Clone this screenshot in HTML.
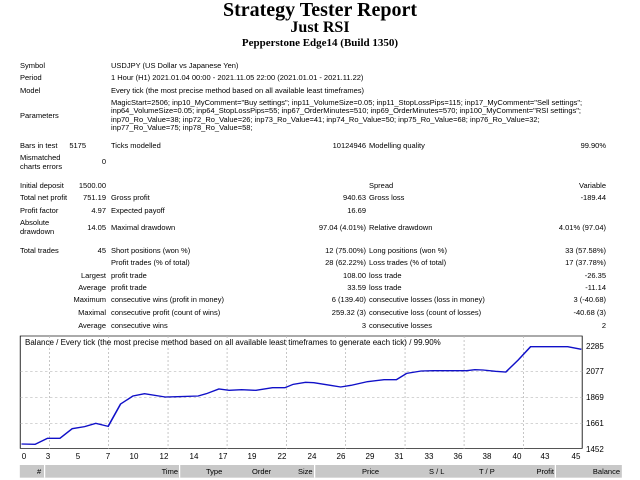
<!DOCTYPE html>
<html><head><meta charset="utf-8"><style>
body{margin:0;width:640px;height:480px;background:#fff;position:relative;overflow:hidden;font-family:"Liberation Sans","DejaVu Sans",sans-serif;font-size:7.5px;color:#000}
.t{position:absolute;white-space:nowrap;line-height:9px}
.r{text-align:right}
.c{position:absolute;white-space:nowrap;font-size:8px;line-height:9px}
.x{position:absolute;top:452px;width:20px;margin-left:-10px;text-align:center;font-size:8px;line-height:9px}
.h{position:absolute;left:0;width:640px;text-align:center;font-family:"Liberation Serif",serif;font-weight:bold;white-space:nowrap}
</style></head><body>
<div class="h" style="top:-1px;font-size:20px;">Strategy Tester Report</div>
<div class="h" style="top:19px;font-size:16px;">Just RSI</div>
<div class="h" style="top:37px;font-size:11px;">Pepperstone Edge14 (Build 1350)</div>

<div class="t" style="left:20px;top:61px">Symbol</div>
<div class="t" style="left:111px;top:61px">USDJPY (US Dollar vs Japanese Yen)</div>
<div class="t" style="left:20px;top:73px">Period</div>
<div class="t" style="left:111px;top:73px">1 Hour (H1) 2021.01.04 00:00 - 2021.11.05 22:00 (2021.01.01 - 2021.11.22)</div>
<div class="t" style="left:20px;top:86px">Model</div>
<div class="t" style="left:111px;top:86px">Every tick (the most precise method based on all available least timeframes)</div>
<div class="t" style="left:20px;top:111px">Parameters</div>
<div class="t" style="left:111px;top:99px;line-height:8.3px">MagicStart=2506; inp10_MyComment="Buy settings"; inp11_VolumeSize=0.05; inp11_StopLossPips=115; inp17_MyComment="Sell settings";<br>inp64_VolumeSize=0.05; inp64_StopLossPips=55; inp67_OrderMinutes=510; inp69_OrderMinutes=570; inp100_MyComment="RSI settings";<br>inp70_Ro_Value=38; inp72_Ro_Value=26; inp73_Ro_Value=41; inp74_Ro_Value=50; inp75_Ro_Value=68; inp76_Ro_Value=32;<br>inp77_Ro_Value=75; inp78_Ro_Value=58;</div>
<div class="t" style="left:20px;top:141px">Bars in test</div>
<div class="t r" style="left:40px;width:46px;top:141px">5175</div>
<div class="t" style="left:111px;top:141px">Ticks modelled</div>
<div class="t r" style="left:280px;width:86px;top:141px">10124946</div>
<div class="t" style="left:369px;top:141px">Modelling quality</div>
<div class="t r" style="left:520px;width:86px;top:141px">99.90%</div>
<div class="t" style="left:20px;top:153px;line-height:9px">Mismatched<br>charts errors</div>
<div class="t r" style="left:40px;width:66px;top:157px">0</div>

<div class="t" style="left:20px;top:181px">Initial deposit</div>
<div class="t r" style="left:40px;width:66px;top:181px">1500.00</div>
<div class="t" style="left:369px;top:181px">Spread</div>
<div class="t r" style="left:520px;width:86px;top:181px">Variable</div>

<div class="t" style="left:20px;top:193px">Total net profit</div>
<div class="t r" style="left:40px;width:66px;top:193px">751.19</div>
<div class="t" style="left:111px;top:193px">Gross profit</div>
<div class="t r" style="left:280px;width:86px;top:193px">940.63</div>
<div class="t" style="left:369px;top:193px">Gross loss</div>
<div class="t r" style="left:520px;width:86px;top:193px">-189.44</div>

<div class="t" style="left:20px;top:206px">Profit factor</div>
<div class="t r" style="left:40px;width:66px;top:206px">4.97</div>
<div class="t" style="left:111px;top:206px">Expected payoff</div>
<div class="t r" style="left:280px;width:86px;top:206px">16.69</div>

<div class="t" style="left:20px;top:218px;line-height:9px">Absolute<br>drawdown</div>
<div class="t r" style="left:40px;width:66px;top:223px">14.05</div>
<div class="t" style="left:111px;top:223px">Maximal drawdown</div>
<div class="t r" style="left:280px;width:86px;top:223px">97.04 (4.01%)</div>
<div class="t" style="left:369px;top:223px">Relative drawdown</div>
<div class="t r" style="left:520px;width:86px;top:223px">4.01% (97.04)</div>

<div class="t" style="left:20px;top:246px">Total trades</div>
<div class="t r" style="left:40px;width:66px;top:246px">45</div>
<div class="t" style="left:111px;top:246px">Short positions (won %)</div>
<div class="t r" style="left:280px;width:86px;top:246px">12 (75.00%)</div>
<div class="t" style="left:369px;top:246px">Long positions (won %)</div>
<div class="t r" style="left:520px;width:86px;top:246px">33 (57.58%)</div>

<div class="t" style="left:111px;top:258px">Profit trades (% of total)</div>
<div class="t r" style="left:280px;width:86px;top:258px">28 (62.22%)</div>
<div class="t" style="left:369px;top:258px">Loss trades (% of total)</div>
<div class="t r" style="left:520px;width:86px;top:258px">17 (37.78%)</div>

<div class="t r" style="left:40px;width:66px;top:271px">Largest</div>
<div class="t" style="left:111px;top:271px">profit trade</div>
<div class="t r" style="left:280px;width:86px;top:271px">108.00</div>
<div class="t" style="left:369px;top:271px">loss trade</div>
<div class="t r" style="left:520px;width:86px;top:271px">-26.35</div>

<div class="t r" style="left:40px;width:66px;top:283px">Average</div>
<div class="t" style="left:111px;top:283px">profit trade</div>
<div class="t r" style="left:280px;width:86px;top:283px">33.59</div>
<div class="t" style="left:369px;top:283px">loss trade</div>
<div class="t r" style="left:520px;width:86px;top:283px">-11.14</div>

<div class="t r" style="left:40px;width:66px;top:295px">Maximum</div>
<div class="t" style="left:111px;top:295px">consecutive wins (profit in money)</div>
<div class="t r" style="left:280px;width:86px;top:295px">6 (139.40)</div>
<div class="t" style="left:369px;top:295px">consecutive losses (loss in money)</div>
<div class="t r" style="left:520px;width:86px;top:295px">3 (-40.68)</div>

<div class="t r" style="left:40px;width:66px;top:308px">Maximal</div>
<div class="t" style="left:111px;top:308px">consecutive profit (count of wins)</div>
<div class="t r" style="left:280px;width:86px;top:308px">259.32 (3)</div>
<div class="t" style="left:369px;top:308px">consecutive loss (count of losses)</div>
<div class="t r" style="left:520px;width:86px;top:308px">-40.68 (3)</div>

<div class="t r" style="left:40px;width:66px;top:321px">Average</div>
<div class="t" style="left:111px;top:321px">consecutive wins</div>
<div class="t r" style="left:280px;width:86px;top:321px">3</div>
<div class="t" style="left:369px;top:321px">consecutive losses</div>
<div class="t r" style="left:520px;width:86px;top:321px">2</div>

<svg style="position:absolute;left:0;top:330px" width="640" height="150" viewBox="0 0 1550 450" preserveAspectRatio="none">
<rect x="49" y="18" width="1361" height="337" fill="#fff" stroke="#000" stroke-width="2"/>
<g stroke="#bbb" stroke-width="2" stroke-dasharray="6,6">
<line x1="49" y1="125" x2="1410" y2="125"/><line x1="49" y1="203" x2="1410" y2="203"/><line x1="49" y1="280" x2="1410" y2="280"/>
<line x1="120" y1="18" x2="120" y2="355"/><line x1="263" y1="18" x2="263" y2="355"/><line x1="407" y1="18" x2="407" y2="355"/><line x1="550" y1="18" x2="550" y2="355"/><line x1="694" y1="18" x2="694" y2="355"/><line x1="837" y1="18" x2="837" y2="355"/><line x1="981" y1="18" x2="981" y2="355"/><line x1="1124" y1="18" x2="1124" y2="355"/><line x1="1268" y1="18" x2="1268" y2="355"/>
</g>
<polyline fill="none" stroke="#1010c8" stroke-width="4" points="52,342 85,343 115,325 145,325 175,296 205,290 232,280 262,289 292,222 322,198 350,191 400,201 430,200 480,198 500,191 530,177 555,181 585,179 620,181 660,173 690,173 710,163 740,157 760,158 800,166 825,171 850,166 890,155 930,149 960,149 985,130 1020,123 1050,122 1130,122 1150,119 1170,120 1200,124 1225,126 1255,90 1285,50 1375,50 1408,58"/>
<rect x="48" y="405" width="1458" height="38" fill="#c8c8c8"/>
<g stroke="#fff" stroke-width="3"><line x1="108" y1="405" x2="108" y2="443"/><line x1="435" y1="405" x2="435" y2="443"/><line x1="762" y1="405" x2="762" y2="443"/><line x1="1345" y1="405" x2="1345" y2="443"/></g>
</svg>
<div class="c" style="left:25px;top:338px">Balance / Every tick (the most precise method based on all available least timeframes to generate each tick) / 99.90%</div>
<div class="c" style="left:586px;top:342px">2285</div>
<div class="c" style="left:586px;top:367px">2077</div>
<div class="c" style="left:586px;top:393px">1869</div>
<div class="c" style="left:586px;top:419px">1661</div>
<div class="c" style="left:586px;top:445px">1452</div>
<div class="x" style="left:24px">0</div><div class="x" style="left:48px">3</div><div class="x" style="left:78px">5</div><div class="x" style="left:108px">7</div><div class="x" style="left:134px">10</div><div class="x" style="left:164px">12</div><div class="x" style="left:194px">14</div><div class="x" style="left:223px">17</div><div class="x" style="left:252px">19</div><div class="x" style="left:282px">22</div><div class="x" style="left:312px">24</div><div class="x" style="left:341px">26</div><div class="x" style="left:370px">29</div><div class="x" style="left:399px">31</div><div class="x" style="left:429px">33</div><div class="x" style="left:458px">36</div><div class="x" style="left:487px">38</div><div class="x" style="left:517px">40</div><div class="x" style="left:545px">43</div><div class="x" style="left:576px">45</div>
<div class="c" style="left:37px;top:467px;font-size:7.5px">#</div>
<div class="c r" style="left:120px;width:58px;top:467px;font-size:7.5px">Time</div>
<div class="c" style="left:206px;top:467px;font-size:7.5px">Type</div>
<div class="c" style="left:252px;top:467px;font-size:7.5px">Order</div>
<div class="c" style="left:298px;top:467px;font-size:7.5px">Size</div>
<div class="c" style="left:362px;top:467px;font-size:7.5px">Price</div>
<div class="c" style="left:429px;top:467px;font-size:7.5px">S / L</div>
<div class="c" style="left:479px;top:467px;font-size:7.5px">T / P</div>
<div class="c r" style="left:500px;width:54px;top:467px;font-size:7.5px">Profit</div>
<div class="c r" style="left:560px;width:60px;top:467px;font-size:7.5px">Balance</div>
</body></html>
